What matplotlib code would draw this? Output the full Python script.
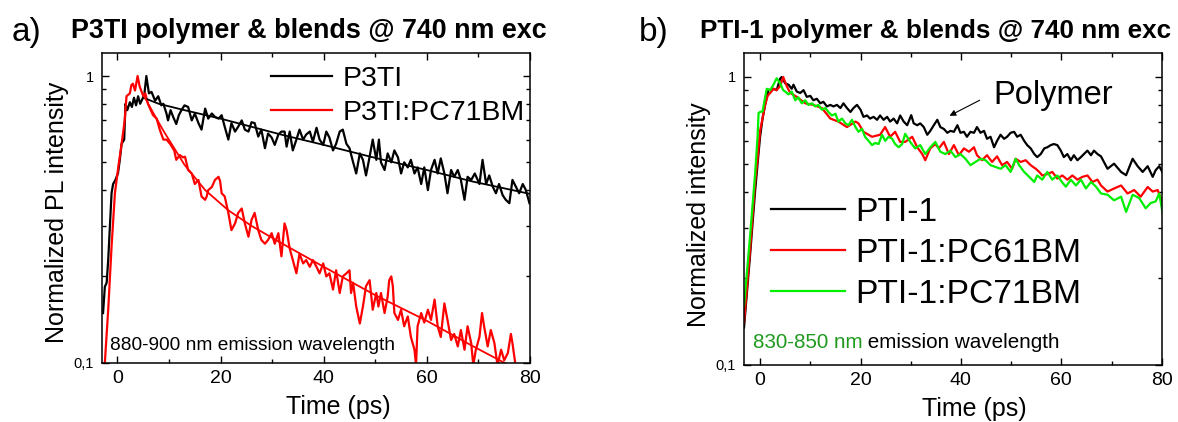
import numpy as np
import matplotlib
matplotlib.use("Agg")
import matplotlib.pyplot as plt
from matplotlib.ticker import FixedLocator, NullFormatter

plt.rcParams['font.family'] = ['Liberation Sans', 'DejaVu Sans']

# ---- panel a: P3TI ----
t_p3ti = [-2.8, -2.45, -2.1, -1.8, -1.15, -0.85, -0.4, 0.1, 0.45, 0.8, 1.3, 1.55, 1.9, 2.4, 2.8, 3.2, 3.6, 4.0,
          4.4, 4.8, 5.2, 5.6, 6.1, 6.6, 7.3, 7.9, 8.5, 8.9, 9.5, 9.8, 10.3, 10.8, 11.4, 11.9, 12.4, 13.0,
          13.7, 14.4, 15.0, 15.7, 16.3, 17.0, 17.6, 18.3, 18.9, 19.6, 20.2, 20.8, 21.5, 22.1, 22.8, 23.4,
          24.1, 24.7, 25.4, 26.0, 26.6, 27.3, 27.9, 28.6, 29.2, 29.9, 30.5, 31.2, 31.8,
          32.4, 32.8, 33.4, 34.0, 34.7, 35.3, 36.0, 36.6, 37.3, 37.9, 38.6, 39.2, 39.9, 40.5, 41.1, 41.8,
          42.4, 43.1, 43.7, 44.4, 45.0, 45.7, 46.3, 47.0, 47.6, 48.2, 48.9, 49.5, 50.2,
          50.7, 51.1, 51.8, 52.4, 53.1, 53.7, 54.4, 55.0, 55.6, 56.3, 56.9, 57.6, 58.2, 58.9, 59.5, 60.2,
          60.8, 61.5, 62.1, 62.7, 63.4, 64.0, 64.7, 65.3, 66.0, 66.6, 67.3, 67.9, 68.6,
          69.3, 70.2, 70.8, 71.5, 72.1, 72.8, 73.4, 74.0, 74.7, 75.3, 76.0, 76.6, 77.3, 77.9, 78.6, 79.2, 79.9]
v_p3ti = [0.149, 0.184, 0.19, 0.228, 0.39, 0.42, 0.434, 0.458, 0.51, 0.58, 0.60, 0.80, 0.76, 0.81, 0.78, 0.84, 0.79, 0.85,
          0.80, 0.83, 0.86, 1.0, 0.87, 0.88, 0.82, 0.85, 0.79, 0.80, 0.74, 0.70, 0.76, 0.72, 0.68, 0.73, 0.76, 0.79,
          0.78, 0.70, 0.74, 0.685, 0.65, 0.77, 0.71, 0.74, 0.72, 0.71, 0.73, 0.665, 0.60, 0.685, 0.64, 0.665,
          0.70, 0.65, 0.64, 0.69, 0.685, 0.615, 0.65, 0.56, 0.63, 0.61, 0.575, 0.625, 0.64,
          0.64, 0.567, 0.64, 0.55, 0.60, 0.65, 0.60, 0.625, 0.64, 0.59, 0.66, 0.60, 0.575, 0.64, 0.61, 0.55,
          0.58, 0.64, 0.65, 0.58, 0.56, 0.50, 0.457, 0.537, 0.51, 0.45, 0.523, 0.60, 0.51,
          0.60, 0.50, 0.47, 0.537, 0.50, 0.55, 0.52, 0.457, 0.50, 0.48, 0.51, 0.457, 0.48, 0.42, 0.48, 0.40,
          0.47, 0.51, 0.457, 0.516, 0.457, 0.39, 0.47, 0.445, 0.47, 0.434, 0.37, 0.445, 0.434,
          0.457, 0.42, 0.51, 0.42, 0.45, 0.41, 0.39, 0.42, 0.384, 0.37, 0.36, 0.434, 0.41, 0.39, 0.42, 0.40, 0.36]

t_blend_a = [-2.7, -1.8, -1.15, -0.5, 0.15, 0.8, 1.4, 1.75, 2.4, 2.7, 3.0, 3.4, 3.9, 4.3, 5.0, 5.4, 5.9, 6.9,
             7.6, 8.2, 8.9, 9.5, 10.2, 11.0, 11.4, 12.1, 12.7,
             13.1, 13.7, 14.4, 15.0, 15.7, 16.3, 17.0, 17.3, 17.6, 18.3, 18.9, 19.6, 19.9, 20.2, 20.8, 21.5,
             22.1, 22.8, 23.4, 24.1, 24.7, 25.4, 26.0, 26.6, 27.3, 27.9, 28.6, 29.2, 29.9, 30.5, 31.2, 31.8,
             32.4, 32.8, 33.4, 34.0, 34.7, 35.3, 36.0, 36.6, 37.3, 37.9, 38.6, 39.2, 39.9, 40.5, 41.1, 41.8,
             42.4, 43.1, 43.7, 44.4, 45.0, 45.3, 45.7, 46.3, 47.0, 47.6, 48.2, 48.9, 49.5, 50.2,
             50.6, 51.1, 51.8, 52.4, 52.7, 53.1, 53.4, 53.7, 54.4, 55.0, 55.6, 56.3, 56.9, 57.6, 57.9, 58.2,
             58.9, 59.5, 60.2, 60.8, 61.5, 62.1, 62.7, 63.4, 64.0, 64.7, 65.3, 66.0, 66.6, 67.3, 67.9, 68.6,
             69.0, 69.5, 70.2, 70.7, 71.1, 71.8, 72.4, 73.1, 73.7, 74.4, 75.0, 75.7, 76.3, 76.6, 77.3]
v_blend_a = [0.085, 0.153, 0.254, 0.39, 0.48, 0.58, 0.70, 0.85, 0.87, 0.93, 0.94, 0.89, 1.0, 0.92, 0.85, 0.87, 0.80, 0.73,
             0.71, 0.65, 0.60, 0.60, 0.58, 0.55, 0.51, 0.53, 0.52,
             0.523, 0.47, 0.457, 0.42, 0.434, 0.38, 0.37, 0.38, 0.40, 0.41, 0.434, 0.445, 0.43, 0.39, 0.38, 0.333,
             0.29, 0.306, 0.333, 0.345, 0.306, 0.275, 0.315, 0.333, 0.29, 0.268, 0.26, 0.268, 0.283, 0.26, 0.283, 0.235,
             0.306, 0.29, 0.25, 0.228, 0.205, 0.24, 0.222, 0.228, 0.216, 0.228, 0.216, 0.205, 0.222, 0.20, 0.205, 0.18,
             0.21, 0.175, 0.20, 0.205, 0.21, 0.175, 0.19, 0.157, 0.137, 0.157, 0.185, 0.194, 0.153, 0.175,
             0.157, 0.175, 0.149, 0.17, 0.194, 0.20, 0.185, 0.149, 0.141, 0.153, 0.134, 0.145, 0.123, 0.111, 0.098, 0.134,
             0.149, 0.138, 0.153, 0.141, 0.166, 0.134, 0.123, 0.161, 0.141, 0.12, 0.126, 0.114, 0.13, 0.111, 0.134, 0.117,
             0.098, 0.111, 0.123, 0.149, 0.134, 0.114, 0.13, 0.117, 0.098, 0.111, 0.102, 0.108, 0.126, 0.117, 0.095]

# exponential fits
t_fit_p3ti = [5, 8, 13, 20, 32, 40, 50, 60, 69, 80]
v_fit_p3ti = [0.84, 0.80, 0.76, 0.71, 0.623, 0.575, 0.518, 0.47, 0.428, 0.388]
t_fit_blend_a = [5, 7, 9, 11, 13, 17, 21.5, 26, 32, 40, 50, 60, 69, 75, 77]
v_fit_blend_a = [0.86, 0.74, 0.64, 0.56, 0.49, 0.40, 0.34, 0.30, 0.26, 0.216, 0.172, 0.140, 0.114, 0.100, 0.096]

# ---- panel b: PTI-1 ----
t_pti = [-3.2, -2.0, -1.0, -0.5, 0.0, 0.5, 1.0, 1.66, 2.66, 3.3, 4.0, 4.3, 5.0, 5.65, 6.3, 6.65, 7.3, 8.0, 8.65,
         9.3, 10.0, 10.6, 11.3, 12.0, 12.6, 13.3, 14.0, 14.6, 15.3, 16.0, 16.6, 17.3, 18.0, 18.6, 19.3, 20.0,
         20.6, 21.3, 21.9, 22.6, 23.3, 23.9, 24.6, 25.3, 25.9, 26.6, 27.3, 27.9, 28.6, 29.3, 30.1, 30.6, 31.3,
         31.9, 32.6, 33.3, 33.9, 34.6, 35.3, 35.9, 36.6, 37.3, 37.9, 38.6, 39.3, 39.9, 40.6, 41.2, 41.9, 42.6,
         43.2, 43.9, 44.6, 45.2, 45.9, 46.6, 47.2, 47.9, 48.6, 49.2, 49.9, 50.6, 51.2, 51.9, 52.6, 53.2, 53.9,
         54.6, 55.2, 55.9, 56.6, 57.2, 57.9, 58.5, 59.2, 59.9, 60.5, 61.2, 61.9, 62.5, 63.2, 63.9, 64.5, 65.2,
         65.9, 66.5, 67.2, 67.9, 69.2, 70.5, 71.9, 72.9, 74.2, 75.2, 76.2, 77.2, 78.2, 78.8, 79.5, 80.2]
v_pti = [0.135, 0.24, 0.40, 0.50, 0.62, 0.72, 0.80, 0.90, 0.91, 0.90, 0.987, 1.0, 0.95, 0.94, 0.91, 0.94, 0.89, 0.88, 0.90,
         0.853, 0.86, 0.83, 0.84, 0.81, 0.82, 0.79, 0.80, 0.79, 0.80, 0.78, 0.81, 0.78, 0.756, 0.78, 0.80, 0.77,
         0.727, 0.735, 0.717, 0.727, 0.71, 0.735, 0.71, 0.727, 0.70, 0.717, 0.69, 0.735, 0.70, 0.68, 0.737, 0.69, 0.68,
         0.69, 0.67, 0.63, 0.65, 0.68, 0.71, 0.67, 0.66, 0.64, 0.65, 0.645, 0.68, 0.64, 0.645, 0.62, 0.645, 0.64,
         0.67, 0.64, 0.65, 0.61, 0.62, 0.57, 0.60, 0.63, 0.61, 0.62, 0.64, 0.645, 0.62, 0.63, 0.60, 0.58, 0.565,
         0.54, 0.527, 0.54, 0.565, 0.57, 0.58, 0.585, 0.58, 0.555, 0.527, 0.54, 0.514, 0.535, 0.514, 0.527, 0.54, 0.555,
         0.535, 0.555, 0.54, 0.53, 0.48, 0.50, 0.468, 0.456, 0.52, 0.49, 0.468, 0.49, 0.45, 0.475, 0.49, 0.465]

t_pc61 = [-3.2, -2.0, -1.0, -0.5, 0.0, 0.5, 1.0, 1.5, 2.0, 2.7, 3.3, 4.0, 4.6, 5.3, 6.0, 7.3, 8.2, 9.0, 10.6,
          12.3, 14.0, 15.6, 17.3, 19.0, 19.6, 20.6, 22.3, 23.9, 24.9, 25.9, 26.9, 27.9, 28.9, 30.3, 31.3, 32.3,
          32.9, 33.9, 34.9, 35.6, 36.6, 37.6, 38.6, 39.6, 40.6, 41.6, 42.6, 43.2, 44.2, 45.2, 46.2, 47.2, 48.2,
          49.2, 50.2, 50.9, 51.9, 52.9, 53.9, 54.9, 55.6, 56.2, 57.2, 58.2, 59.2, 60.2, 61.2, 62.2, 63.2, 64.2,
          65.2, 66.2, 67.2, 67.9, 69.2, 70.5, 71.9, 73.2, 74.5, 75.8, 77.2, 78.2, 79.2, 80.0]
v_pc61 = [0.14, 0.25, 0.43, 0.52, 0.65, 0.72, 0.80, 0.86, 0.88, 0.91, 0.90, 0.93, 1.0, 0.93, 0.88, 0.853, 0.83, 0.81, 0.80,
          0.78, 0.717, 0.70, 0.67, 0.70, 0.69, 0.645, 0.62, 0.63, 0.67, 0.62, 0.645, 0.595, 0.595, 0.62, 0.57, 0.54,
          0.514, 0.565, 0.585, 0.565, 0.595, 0.54, 0.58, 0.535, 0.565, 0.55, 0.57, 0.535, 0.514, 0.535, 0.507, 0.53, 0.494,
          0.507, 0.48, 0.52, 0.507, 0.514, 0.494, 0.48, 0.468, 0.455, 0.46, 0.468, 0.444, 0.455, 0.44, 0.455, 0.44, 0.45,
          0.455, 0.432, 0.44, 0.42, 0.40, 0.41, 0.42, 0.394, 0.405, 0.384, 0.415, 0.40, 0.405, 0.37]

t_pc71 = [-3.2, -2.0, -1.0, -0.5, -0.3, 0.0, 0.5, 1.0, 1.33, 2.0, 2.66, 3.3, 4.0, 4.6, 5.0, 5.65, 6.3, 7.0, 7.6,
          8.3, 9.0, 9.6, 10.3, 11.0, 11.6, 12.3, 13.0, 13.6, 14.3, 15.0, 15.6, 16.3, 17.0, 17.6, 18.3, 19.0,
          19.6, 20.3, 20.9, 21.6, 22.3, 22.9, 23.6, 24.3, 24.9, 25.6, 26.3, 26.9, 27.6, 28.3, 28.9, 29.9, 30.9,
          31.9, 32.9, 33.9, 34.9, 35.9, 36.9, 37.9, 38.9, 39.9, 40.9, 41.9, 42.9, 43.9, 44.9, 45.9, 46.9, 47.9,
          48.9, 49.9, 50.9, 51.6, 52.6, 53.6, 54.6, 55.2, 56.2, 57.2, 58.2, 59.2, 60.2, 60.9, 61.9, 62.9, 63.9,
          64.9, 65.9, 66.9, 67.9, 69.2, 70.5, 71.9, 72.9, 74.2, 75.5, 76.8, 77.8, 78.8, 79.5, 80.2]
v_pc71 = [0.16, 0.28, 0.46, 0.62, 0.75, 0.756, 0.76, 0.85, 0.91, 0.90, 0.94, 0.99, 0.95, 0.90, 0.89, 0.87, 0.89, 0.83, 0.85,
          0.81, 0.83, 0.80, 0.81, 0.79, 0.80, 0.77, 0.78, 0.756, 0.735, 0.745, 0.70, 0.717, 0.69, 0.68, 0.71, 0.67,
          0.645, 0.66, 0.62, 0.60, 0.58, 0.59, 0.585, 0.63, 0.60, 0.62, 0.61, 0.585, 0.57, 0.585, 0.635, 0.595, 0.565,
          0.58, 0.54, 0.57, 0.595, 0.55, 0.54, 0.555, 0.527, 0.54, 0.52, 0.494, 0.507, 0.52, 0.514, 0.494, 0.487, 0.48,
          0.494, 0.468, 0.52, 0.494, 0.468, 0.45, 0.432, 0.455, 0.44, 0.468, 0.44, 0.455, 0.43, 0.416, 0.44, 0.42, 0.44,
          0.41, 0.432, 0.416, 0.394, 0.39, 0.373, 0.384, 0.34, 0.39, 0.38, 0.35, 0.365, 0.37, 0.394, 0.335]


def style_axes(ax, xlim, ylim):
    ax.set_yscale('log')
    ax.set_xlim(*xlim)
    ax.set_ylim(*ylim)
    ax.xaxis.set_major_locator(FixedLocator([0, 20, 40, 60, 80]))
    ax.xaxis.set_minor_locator(FixedLocator([10, 30, 50, 70]))
    ax.yaxis.set_major_locator(FixedLocator([0.1, 1]))
    ax.set_yticklabels(['0,1', '1'])
    ax.yaxis.set_minor_locator(FixedLocator([0.2, 0.3, 0.4, 0.5, 0.6, 0.7, 0.8, 0.9]))
    ax.yaxis.set_minor_formatter(NullFormatter())
    ax.tick_params(which='both', direction='in', top=True, right=True, width=1)
    ax.tick_params(which='major', length=5)
    ax.tick_params(which='minor', length=3)
    ax.tick_params(axis='x', labelsize=14, pad=5)
    ax.tick_params(axis='y', labelsize=10.5, pad=6)
    for s in ax.spines.values():
        s.set_linewidth(1.1)


fig = plt.figure(figsize=(11.78, 4.22), dpi=100)

# ---- panel a ----
ax1 = fig.add_axes([0.0866, 0.1405, 0.3633, 0.7332])
l1, = ax1.plot(t_p3ti, v_p3ti, color='black', lw=1.6)
l2, = ax1.plot(t_blend_a, v_blend_a, color='red', lw=1.6)
ax1.plot(t_fit_p3ti, v_fit_p3ti, color='black', lw=1.3)
ax1.plot(t_fit_blend_a, v_fit_blend_a, color='red', lw=1.3)
style_axes(ax1, (-3, 80), (0.1, 1.2))
ax1.set_xlabel('Time (ps)', fontsize=18, va='center')
ax1.xaxis.set_label_coords(0.551, -0.143)
ax1.set_ylabel('Normalized PL intensity', fontsize=18, va='center')
ax1.yaxis.set_label_coords(-0.105, 0.487)
ax1.legend([l1, l2], ['P3TI', 'P3TI:PC71BM'], loc='upper left', bbox_to_anchor=(0.394, 0.958),
           frameon=False, fontsize=20.5, handlelength=2.17, handletextpad=0.37, labelspacing=0.26,
           borderpad=0, borderaxespad=0)
ax1.text(0.019, 0.056, '880-900 nm emission wavelength', transform=ax1.transAxes,
         fontsize=13.8, ha='left', va='center')

fig.text(0.0099, 0.924, 'a)', fontsize=24, ha='left', va='center')
fig.text(71 / 1178, 0.927, 'P3TI polymer & blends @ 740 nm exc', fontsize=19.4,
         fontweight='bold', ha='left', va='center')

# ---- panel b ----
ax2 = fig.add_axes([0.6316, 0.1351, 0.3546, 0.739])
m1, = ax2.plot(t_pti, v_pti, color='black', lw=1.6)
m2, = ax2.plot(t_pc61, v_pc61, color='red', lw=1.6)
m3, = ax2.plot(t_pc71, v_pc71, color='#00ee00', lw=1.6)
style_axes(ax2, (-3.2, 80), (0.1, 1.21))
ax2.set_xlabel('Time (ps)', fontsize=18, va='center')
ax2.xaxis.set_label_coords(0.552, -0.14)
ax2.set_ylabel('Normalized intensity', fontsize=18, va='center')
ax2.yaxis.set_label_coords(-0.108, 0.482)
ax2.legend([m1, m2, m3], ['PTI-1', 'PTI-1:PC61BM', 'PTI-1:PC71BM'], loc='upper left',
           bbox_to_anchor=(0.065, 0.54), frameon=False, fontsize=24.2, handlelength=2.2,
           handletextpad=0.3, labelspacing=0.3, borderpad=0, borderaxespad=0)
ax2.text(0.598, 0.865, 'Polymer', transform=ax2.transAxes, fontsize=23.5, ha='left', va='center')
ax2.annotate('', xy=(0.486, 0.795), xytext=(0.570, 0.853), xycoords='axes fraction',
             textcoords='axes fraction',
             arrowprops=dict(arrowstyle='-|>', color='black', lw=0.8, mutation_scale=9))
txt = ax2.text(0.021, 0.072, '830-850 nm', transform=ax2.transAxes, fontsize=14.9,
               color='#1f9a1f', ha='left', va='center')
ax2.annotate(' emission wavelength', xy=(1, 0.5), xycoords=txt, fontsize=14.9,
             color='black', ha='left', va='center')

fig.text(639 / 1178, 0.924, 'b)', fontsize=24, ha='left', va='center')
fig.text(700 / 1178, 0.927, 'PTI-1 polymer & blends @ 740 nm exc', fontsize=18.8,
         fontweight='bold', ha='left', va='center')

fig.savefig('out.png', dpi=100)
